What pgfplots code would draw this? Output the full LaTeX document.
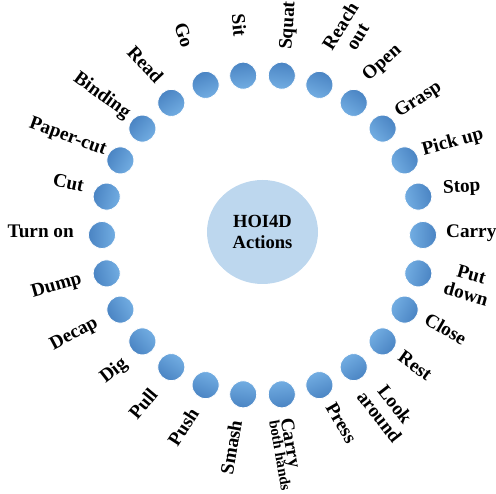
\documentclass[border=0pt]{standalone}
\usepackage{pgfplots}
\pgfplotsset{compat=1.18}
\usepackage{pgfplotstable}
\usetikzlibrary{shapes.geometric}
\usepackage{fontspec}
\setmainfont{Liberation Serif}
\definecolor{dotdark}{HTML}{4A84C3}
\definecolor{dotlight}{HTML}{72ADE2}
\definecolor{centerfill}{HTML}{BDD7EE}
% \lab{x}{y}{rotation}{anchor}{text}
\newcommand\lab[5]{\node[rotate=#3, anchor=#4, inner sep=0pt, align=center, font=\bfseries\fontsize{19.3}{20}\selectfont] at (axis cs:#1,#2) {#5};}
\pgfplotstableread{
x y sa
423.0 259.0 -90
418.3 297.4 -76.154
404.6 333.6 -62.308
382.6 365.4 -48.462
353.7 391.1 -34.615
319.4 409.1 -20.769
281.8 418.3 -6.923
243.2 418.3 6.923
205.6 409.1 20.769
171.3 391.1 34.615
142.4 365.4 48.462
120.4 333.6 62.308
106.7 297.4 76.154
102.0 259.0 90
106.7 220.6 103.846
120.4 184.4 117.692
142.4 152.6 131.538
171.3 126.9 145.385
205.6 108.9 159.231
243.2 99.7 173.077
281.8 99.7 186.923
319.4 108.9 200.769
353.7 126.9 214.615
382.6 152.6 228.462
404.6 184.4 242.308
418.3 220.6 256.154
}\dots
\begin{document}
\begin{tikzpicture}
\useasboundingbox (0,0) rectangle (496bp,494bp);
\begin{axis}[at={(0,0)}, anchor=south west, scale only axis,
  width=496bp, height=494bp, xmin=0, xmax=496, ymin=0, ymax=494,
  hide axis, clip=false]
% centre ellipse
\addplot[only marks, mark=none, nodes near coords={HOI4D\\Actions},
  nodes near coords align=center,
  every node near coord/.append style={ellipse, fill=centerfill, minimum width=111bp, minimum height=104bp, inner sep=0pt, align=center, anchor=center, font=\bfseries\fontsize{18.6}{21.5}\selectfont, yshift=-2bp}]
  coordinates {(262.5,264)};
% dots
\addplot[only marks, mark=none, nodes near coords={},
  nodes near coords align=center,
  visualization depends on={\thisrow{sa} \as \sa},
  every node near coord/.append style={anchor=center, circle, inner sep=0pt, minimum size=27bp, draw=white, line width=0.8bp, top color=dotdark, bottom color=dotlight, shading angle=\sa}]
  table[x=x, y=y] {\dots};
% labels
\lab{446}{259}{0}{mid west}{Carry}
\lab{443}{303}{3}{mid west}{Stop}
\lab{423}{341}{15}{mid west}{Pick up}
\lab{398}{378}{33}{mid west}{Grasp}
\lab{367}{414}{42}{mid west}{Open}
\lab{335}{441}{58}{west}{Reach\\out}
\lab{289}{444}{86}{mid west}{Squat}
\lab{236}{457}{-85}{mid east}{Sit}
\lab{184}{446}{-72}{mid east}{Go}
\lab{157}{411}{-47}{mid east}{Read}
\lab{127}{377}{-36}{mid east}{Binding}
\lab{105}{341}{-20}{mid east}{Paper-cut}
\lab{83}{304}{-12}{mid east}{Cut}
\lab{74}{259}{0}{mid east}{Turn on}
\lab{82}{213}{16}{mid east}{Dump}
\lab{98}{170}{28}{mid east}{Decap}
\lab{127}{130}{38}{mid east}{Dig}
\lab{157}{100}{50}{mid east}{Pull}
\lab{198}{82}{57}{mid east}{Push}
\lab{240}{73}{80}{mid east}{Smash}
\node[rotate=-80, anchor=west, inner sep=0pt, align=left] at (axis cs:281,75) {{\bfseries\fontsize{19.3}{20}\selectfont Carry}\\[-4pt]{\bfseries\fontsize{15}{16}\selectfont both hands}};
\lab{327}{88}{-60}{mid west}{Press}
\lab{369}{107}{-52}{west}{Look\\around}
\lab{398}{136}{-36}{mid west}{Rest}
\lab{424}{173}{-30}{mid west}{Close}
\lab{447}{216}{-16}{west}{Put\\down}
\end{axis}
\end{tikzpicture}
\end{document}
